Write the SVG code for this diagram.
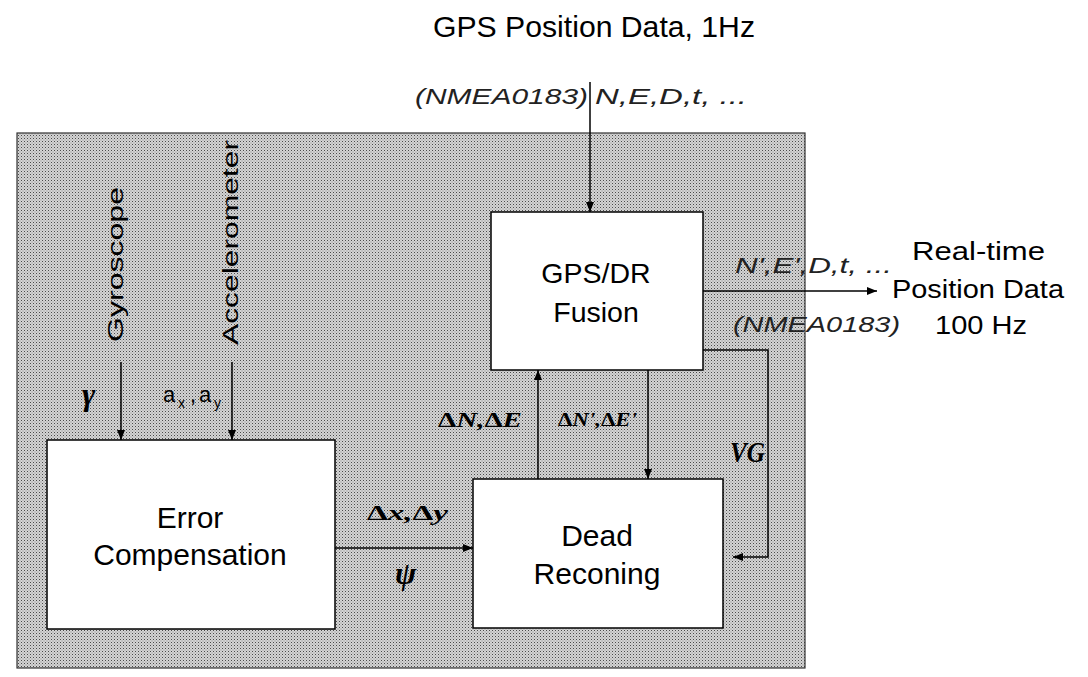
<svg xmlns="http://www.w3.org/2000/svg" width="1088" height="677" viewBox="0 0 1088 677">
<defs>
<pattern id="dots" width="3" height="3" patternUnits="userSpaceOnUse">
<rect width="3" height="3" fill="#d4d4d4"/>
<rect width="1" height="1" fill="#4a4a4a"/>
<rect x="1.5" y="1.5" width="1" height="1" fill="#8a8a8a"/>
</pattern>
<marker id="arr" markerUnits="userSpaceOnUse" markerWidth="11" markerHeight="9" refX="10" refY="4.5" orient="auto">
<path d="M0,0.5 L10,4.5 L0,8.5 Z" fill="#000"/>
</marker>
<style>
.box{fill:#fff;stroke:#000;stroke-width:1.5}
.ln{fill:none;stroke:#000;stroke-width:1.5}
.sans{font-family:"Liberation Sans",Arial,sans-serif;fill:#000}
.it{font-family:"Liberation Sans",Arial,sans-serif;font-style:italic;fill:#222}
.math{font-family:"Liberation Serif","Times New Roman",serif;font-weight:bold;font-style:italic;fill:#000}
.lbl{font-size:30px;text-anchor:middle}
</style>
</defs>
<rect id="background" x="17" y="133" width="788" height="535" fill="url(#dots)" stroke="#333" stroke-width="1.2"/>

<g id="connectors">
<line class="ln" x1="590" y1="82" x2="590" y2="212" marker-end="url(#arr)"/>
<line class="ln" x1="121" y1="362" x2="121" y2="440" marker-end="url(#arr)"/>
<line class="ln" x1="232" y1="362" x2="232" y2="440" marker-end="url(#arr)"/>
<line class="ln" x1="335" y1="548" x2="473" y2="548" marker-end="url(#arr)"/>
<line class="ln" x1="538" y1="479" x2="538" y2="370" marker-end="url(#arr)"/>
<line class="ln" x1="648" y1="370" x2="648" y2="479" marker-end="url(#arr)"/>
<polyline class="ln" points="703,350 768,350 768,557 733,557" marker-end="url(#arr)"/>
<line class="ln" x1="703" y1="291" x2="877" y2="291" marker-end="url(#arr)"/>
</g>

<g id="gps-dr-fusion">
<rect class="box" x="491" y="212" width="212" height="158"/>
<text class="sans lbl" x="596" y="283" style="font-size:28.5px">GPS/DR</text>
<text class="sans lbl" x="596" y="322" style="font-size:28.5px">Fusion</text>
</g>

<g id="error-compensation">
<rect class="box" x="47" y="440" width="288" height="189"/>
<text class="sans lbl" x="190" y="528">Error</text>
<text class="sans lbl" x="190" y="565">Compensation</text>
</g>

<g id="dead-reconing">
<rect class="box" x="473" y="479" width="250" height="149"/>
<text class="sans lbl" x="597" y="546">Dead</text>
<text class="sans lbl" x="597" y="584">Reconing</text>
</g>

<g id="labels">
<text class="sans" x="433" y="37" font-size="30" textLength="322" lengthAdjust="spacingAndGlyphs">GPS Position Data, 1Hz</text>
<text class="it" x="415" y="104" font-size="22" textLength="173" lengthAdjust="spacingAndGlyphs">(NMEA0183)</text>
<text class="it" x="595" y="104" font-size="22" textLength="152" lengthAdjust="spacingAndGlyphs">N,E,D,t, ...</text>
<text class="it" x="735" y="273" font-size="22" textLength="157" lengthAdjust="spacingAndGlyphs">N',E',D,t, ...</text>
<text class="it" x="733" y="332" font-size="22" textLength="167" lengthAdjust="spacingAndGlyphs">(NMEA0183)</text>
<text class="sans" x="912" y="260" font-size="26" textLength="133" lengthAdjust="spacingAndGlyphs">Real-time</text>
<text class="sans" x="892" y="298" font-size="26" textLength="172" lengthAdjust="spacingAndGlyphs">Position Data</text>
<text class="sans" x="935" y="334" font-size="26" textLength="92" lengthAdjust="spacingAndGlyphs">100 Hz</text>
<text class="sans" transform="translate(123,342) rotate(-90)" font-size="22" textLength="155" lengthAdjust="spacingAndGlyphs">Gyroscope</text>
<text class="sans" transform="translate(238,345) rotate(-90)" font-size="22" textLength="205" lengthAdjust="spacingAndGlyphs">Accelerometer</text>
<text class="math" x="82" y="405" font-size="32">γ</text>
<text class="sans" font-size="22"><tspan x="163" y="402">a</tspan><tspan x="178" y="408" font-size="14">x</tspan><tspan x="190" y="402">,</tspan><tspan x="199" y="402">a</tspan><tspan x="214" y="408" font-size="14">y</tspan></text>
<text class="math" x="367" y="520" font-size="22" textLength="81" lengthAdjust="spacingAndGlyphs"><tspan font-style="normal">Δ</tspan>x,<tspan font-style="normal">Δ</tspan>y</text>
<text class="math" x="395" y="584" font-size="32">ψ</text>
<text class="math" x="438" y="427" font-size="21" textLength="84" lengthAdjust="spacingAndGlyphs"><tspan font-style="normal">Δ</tspan>N,<tspan font-style="normal">Δ</tspan>E</text>
<text class="math" x="558" y="426" font-size="19" textLength="79" lengthAdjust="spacingAndGlyphs"><tspan font-style="normal">Δ</tspan>N',<tspan font-style="normal">Δ</tspan>E'</text>
<text class="math" x="730" y="462" font-size="29" textLength="35" lengthAdjust="spacingAndGlyphs">VG</text>
</g>
</svg>
